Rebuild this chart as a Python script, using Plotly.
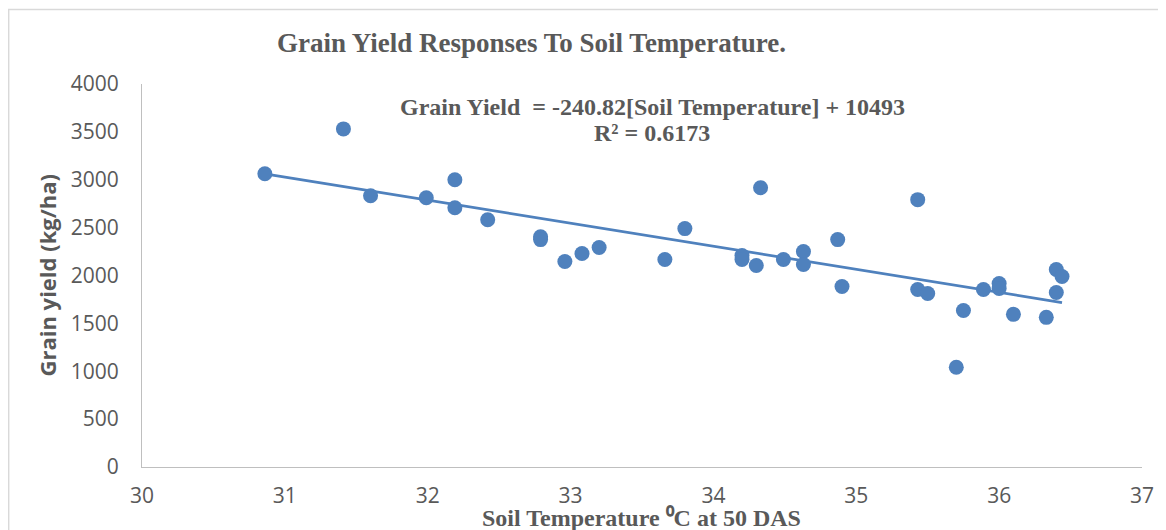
import plotly.graph_objects as go

soil_temp = [30.86, 31.41, 31.60, 31.99, 32.19, 32.19, 32.42, 32.79, 32.79, 32.96,
             33.08, 33.20, 33.66, 33.80, 34.20, 34.20, 34.30, 34.33, 34.49, 34.63,
             34.63, 34.87, 34.90, 35.43, 35.43, 35.50, 35.70, 35.75, 35.89, 36.00,
             36.00, 36.10, 36.33, 36.40, 36.44, 36.40]
grain_yield = [3063, 3531, 2833, 2812, 3000, 2708, 2583, 2405, 2375, 2146,
               2229, 2292, 2167, 2490, 2208, 2167, 2104, 2917, 2167, 2250,
               2115, 2375, 1885, 2792, 1854, 1812, 1042, 1635, 1854, 1917,
               1865, 1594, 1563, 2063, 1990, 1823]

slope = -240.82
intercept = 10493
r_squared = 0.6173

x_ticks = [30, 31, 32, 33, 34, 35, 36, 37]
y_ticks = [0, 500, 1000, 1500, 2000, 2500, 3000, 3500, 4000]

blue = "#4F81BD"
gray_text = "#595959"
axis_gray = "#BFBFBF"

x_min, x_max = min(soil_temp), max(soil_temp)
trend_x = [x_min, x_max]
trend_y = [slope * v + intercept for v in trend_x]

fig = go.Figure()
fig.add_trace(go.Scatter(x=trend_x, y=trend_y, mode="lines",
                         line=dict(color=blue, width=2.75), hoverinfo="skip",
                         showlegend=False))
fig.add_trace(go.Scatter(x=soil_temp, y=grain_yield, mode="markers",
                         marker=dict(color=blue, size=15, line=dict(width=0)),
                         showlegend=False))

# page body has an 8px margin; reference pixel coords -> paper coords
def px(xpix):
    return (xpix - 142) / 1005

def py(ypix):
    return (467 - ypix) / 383

serif = "Liberation Serif"
fig.update_layout(
    width=1158, height=522,
    margin=dict(l=134, r=19, t=76, b=63),
    paper_bgcolor="white", plot_bgcolor="white",
    font=dict(family="Open Sans", color=gray_text),
    xaxis=dict(range=[30, 37], tickvals=x_ticks, showgrid=False, zeroline=False,
               showline=True, linecolor=axis_gray, linewidth=1, ticks="",
               tickfont=dict(size=21, color=gray_text, family="Open Sans"),
               ticklabelstandoff=10),
    yaxis=dict(range=[0, 4000], tickvals=y_ticks, showgrid=False, zeroline=False,
               showline=True, linecolor=axis_gray, linewidth=1, ticks="",
               tickfont=dict(size=21, color=gray_text, family="Open Sans"),
               ticklabelstandoff=18),
    shapes=[dict(type="rect", xref="paper", yref="paper",
                 x0=px(8), x1=px(1175), y0=py(540), y1=py(9.5),
                 line=dict(color="#D9D9D9", width=1.5), fillcolor="rgba(0,0,0,0)",
                 layer="below")],
    annotations=[
        dict(text="<b>Grain Yield Responses To Soil Temperature.</b>", xref="paper", yref="paper",
             x=px(533), y=py(43), showarrow=False, xanchor="center", yanchor="middle",
             font=dict(family=serif, size=27, color=gray_text)),
        dict(text="<b>Grain Yield  = %.2f[Soil Temperature] + %d</b>" % (slope, intercept),
             xref="paper", yref="paper", x=px(655), y=py(107), showarrow=False,
             xanchor="center", yanchor="middle",
             font=dict(family=serif, size=24, color=gray_text)),
        dict(text="<b>R² = %.4f</b>" % r_squared,
             xref="paper", yref="paper", x=px(655), y=py(133), showarrow=False,
             xanchor="center", yanchor="middle",
             font=dict(family=serif, size=24, color=gray_text)),
        dict(text="<b>Soil Temperature ⁰C at 50 DAS</b>", xref="paper", yref="paper",
             x=px(644), y=py(518), showarrow=False, xanchor="center", yanchor="middle",
             font=dict(family=serif, size=24, color=gray_text)),
        dict(text="<b>Grain yield (kg/ha)</b>", xref="paper", yref="paper",
             x=px(47), y=py(275), showarrow=False, xanchor="center", yanchor="middle",
             textangle=-90, font=dict(family="Open Sans", size=22, color=gray_text)),
    ],
)

fig.write_html("out.html")
